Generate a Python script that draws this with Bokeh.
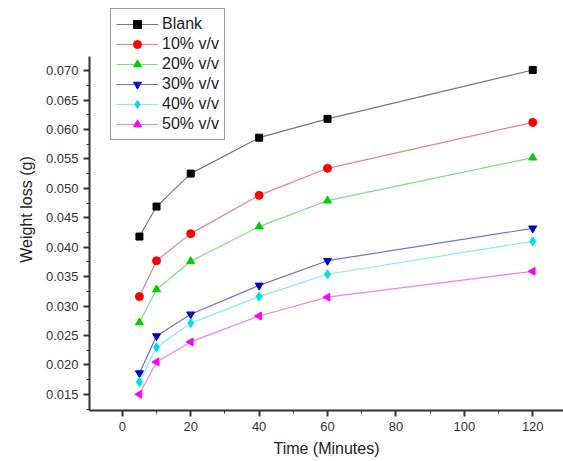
import numpy as np
from bokeh.plotting import figure
from bokeh.models import (Range1d, SingleIntervalTicker, NumeralTickFormatter,
                          Legend, LegendItem)
from bokeh.embed import file_html
from bokeh.resources import INLINE

time_min = [5, 10, 20, 40, 60, 120]
series_names = ["Blank", "10% v/v", "20% v/v", "30% v/v", "40% v/v", "50% v/v"]
blank = [0.0418, 0.0469, 0.0525, 0.0586, 0.0618, 0.0701]
c10 = [0.0316, 0.0377, 0.0423, 0.0488, 0.0534, 0.0612]
c20 = [0.0272, 0.0328, 0.0376, 0.0435, 0.0479, 0.0552]
c30 = [0.0186, 0.0249, 0.0286, 0.0335, 0.0377, 0.0432]
c40 = [0.0171, 0.0230, 0.0271, 0.0316, 0.0354, 0.0410]
c50 = [0.0150, 0.0205, 0.0239, 0.0283, 0.0315, 0.0359]
all_series = [blank, c10, c20, c30, c40, c50]

colors = ["#000000", "#ff0000", "#00cc00", "#0000cc", "#00e0e0", "#ff00ff"]
line_colors = ["#777777", "#f08080", "#80e080", "#7070e0", "#80f0f0", "#f080f0"]
markers = ["square", "circle", "triangle", "inverted_triangle", "diamond", "triangle"]
angles = [0, 0, 0, 0, 0, np.pi / 2]
sizes = [7, 8, 8, 8, 9, 8]

FONT = "Liberation Sans"

Y_LO, Y_AX_TOP, Y_HI = 0.01225, 0.0724, 0.08055

p = figure(width=563, height=461, output_backend="svg", toolbar_location=None,
           x_range=Range1d(-9.6, 129), y_range=Range1d(Y_LO, Y_HI),
           min_border_left=89, min_border_right=0, min_border_top=8,
           min_border_bottom=51)
p.outline_line_color = None
p.grid.visible = False
p.background_fill_color = "white"

items = []
for name, ys, c, lc, m, a, s in zip(series_names, all_series, colors, line_colors,
                                      markers, angles, sizes):
    r1 = p.line(time_min, ys, line_color=lc, line_width=1.2)
    r2 = p.scatter(time_min, ys, marker=m, size=s, angle=a, fill_color=c,
                   line_color=c)
    items.append(LegendItem(label=name, renderers=[r1, r2]))

legend = Legend(items=items, location=(21, 270), label_text_font=FONT,
                label_text_font_size="16px", label_text_color="#222222",
                border_line_color="#333333", border_line_width=1,
                spacing=0, label_height=20, glyph_height=20, glyph_width=42,
                padding=5, margin=0, label_standoff=4,
                background_fill_alpha=1.0)
p.add_layout(legend, "center")

p.xaxis.ticker = SingleIntervalTicker(interval=20, num_minor_ticks=2)
p.yaxis.ticker = SingleIntervalTicker(interval=0.005, num_minor_ticks=2)
p.yaxis.formatter = NumeralTickFormatter(format="0.000")
p.yaxis.bounds = (Y_LO, Y_AX_TOP)
for ax in (p.xaxis, p.yaxis):
    ax.axis_line_width = 2
    ax.axis_line_color = "#333333"
    ax.major_tick_line_color = "#333333"
    ax.minor_tick_line_color = "#333333"
    ax.major_tick_line_width = 2
    ax.major_tick_out = 6
    ax.major_tick_in = 0
    ax.minor_tick_out = 3
    ax.minor_tick_in = 0
    ax.major_label_text_font = FONT
    ax.major_label_text_font_size = "13px"
    ax.major_label_text_color = "#333333"
    ax.axis_label_text_font = FONT
    ax.axis_label_text_font_size = "16px"
    ax.axis_label_text_font_style = "normal"
    ax.axis_label_text_color = "#222222"

p.xaxis.axis_label = "Time (Minutes)"
p.yaxis.axis_label = "Weight loss (g)"
p.xaxis.axis_label_standoff = 6
p.yaxis.axis_label_standoff = 8

open("out.html", "w").write(file_html(p, INLINE))
